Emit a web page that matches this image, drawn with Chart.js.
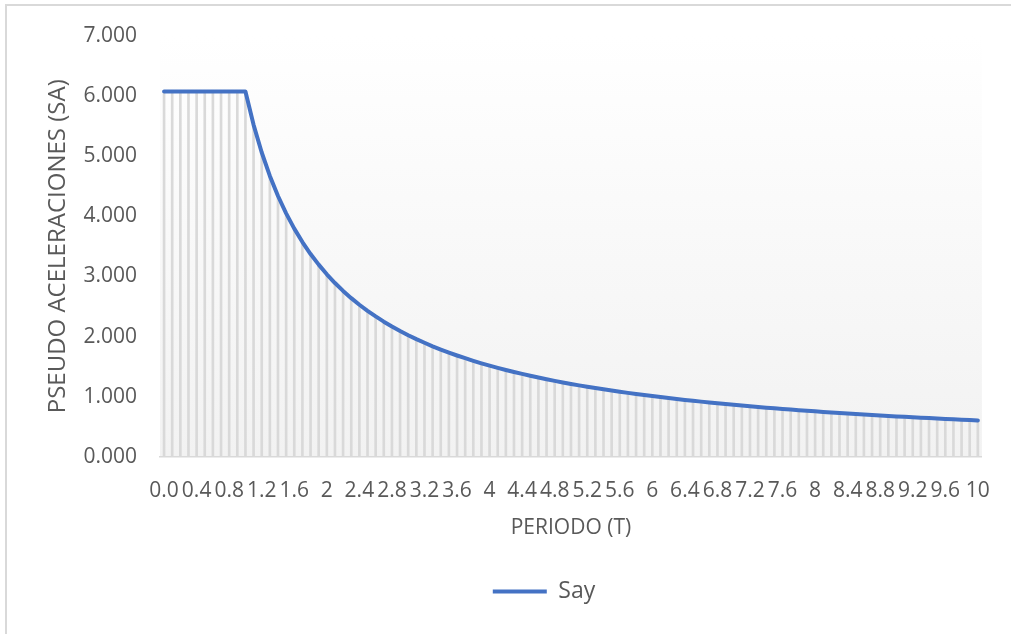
<!DOCTYPE html>
<html>
<head>
<meta charset="utf-8">
<script src="https://cdn.jsdelivr.net/npm/chart.js@4/dist/chart.umd.min.js"></script>
<style>
  html, body { margin: 0; padding: 0; background: #ffffff; }
  #wrap { position: relative; width: 1011px; height: 634px; }
</style>
</head>
<body>
<div id="wrap"><canvas id="c" width="1011" height="634"></canvas></div>
<script>
// Periodo T (s)
const periodos = [
  0.0, 0.1, 0.2, 0.3, 0.4, 0.5, 0.6, 0.7, 0.8, 0.9,
  1.0, 1.1, 1.2, 1.3, 1.4, 1.5, 1.6, 1.7, 1.8, 1.9,
  2.0, 2.1, 2.2, 2.3, 2.4, 2.5, 2.6, 2.7, 2.8, 2.9,
  3.0, 3.1, 3.2, 3.3, 3.4, 3.5, 3.6, 3.7, 3.8, 3.9,
  4.0, 4.1, 4.2, 4.3, 4.4, 4.5, 4.6, 4.7, 4.8, 4.9,
  5.0, 5.1, 5.2, 5.3, 5.4, 5.5, 5.6, 5.7, 5.8, 5.9,
  6.0, 6.1, 6.2, 6.3, 6.4, 6.5, 6.6, 6.7, 6.8, 6.9,
  7.0, 7.1, 7.2, 7.3, 7.4, 7.5, 7.6, 7.7, 7.8, 7.9,
  8.0, 8.1, 8.2, 8.3, 8.4, 8.5, 8.6, 8.7, 8.8, 8.9,
  9.0, 9.1, 9.2, 9.3, 9.4, 9.5, 9.6, 9.7, 9.8, 9.9,
  10.0
];

// Pseudo aceleraciones Say
const say = [
  6.070, 6.070, 6.070, 6.070, 6.070, 6.070, 6.070, 6.070, 6.070, 6.070,
  6.070, 5.518, 5.058, 4.669, 4.336, 4.047, 3.794, 3.571, 3.372, 3.195,
  3.035, 2.890, 2.759, 2.639, 2.529, 2.428, 2.335, 2.248, 2.168, 2.093,
  2.023, 1.958, 1.897, 1.839, 1.785, 1.734, 1.686, 1.641, 1.597, 1.556,
  1.518, 1.480, 1.445, 1.412, 1.380, 1.349, 1.320, 1.291, 1.265, 1.239,
  1.214, 1.190, 1.167, 1.145, 1.124, 1.104, 1.084, 1.065, 1.047, 1.029,
  1.012, 0.995, 0.979, 0.963, 0.948, 0.934, 0.920, 0.906, 0.893, 0.880,
  0.867, 0.855, 0.843, 0.832, 0.820, 0.809, 0.799, 0.788, 0.778, 0.768,
  0.759, 0.749, 0.740, 0.731, 0.723, 0.714, 0.706, 0.698, 0.690, 0.682,
  0.674, 0.667, 0.660, 0.653, 0.646, 0.639, 0.632, 0.626, 0.619, 0.613,
  0.607
];

// Y axis ticks
const yTicks = [0, 1, 2, 3, 4, 5, 6, 7];

const serieNombre = 'Say';
const tituloX = 'PERIODO (T)';
const tituloY = 'PSEUDO ACELERACIONES (SA)';

const FONT = "'Open Sans', 'Liberation Sans', sans-serif";
const TEXT = '#595959';

function fmtPeriodo(v, i) {
  if (i === 0) return v.toFixed(1);
  return String(Math.round(v * 10) / 10);
}

// White page with the light chart frame and graded plot background
const marco = {
  id: 'marco',
  afterLayout(chart) {
    // legend sits centred under the full chart frame, a bit right of the canvas centre
    const lg = chart.legend;
    if (lg) { lg.left += 53; lg.right += 53; }
  },
  beforeDraw(chart) {
    const ctx = chart.ctx;
    const a = chart.chartArea;
    ctx.save();
    ctx.fillStyle = '#ffffff';
    ctx.fillRect(0, 0, chart.width, chart.height);
    ctx.strokeStyle = '#d9d9d9';
    ctx.lineWidth = 2;
    ctx.strokeRect(6, 5, chart.width + 40, chart.height + 40);
    const g = ctx.createLinearGradient(0, a.top, 0, a.bottom);
    g.addColorStop(0, '#ffffff');
    g.addColorStop(1, '#f2f2f2');
    ctx.fillStyle = g;
    ctx.fillRect(a.left, a.top, a.right - a.left, a.bottom - a.top);
    ctx.restore();
  }
};

new Chart(document.getElementById('c'), {
  type: 'bar',
  data: {
    labels: periodos,
    datasets: [
      {
        type: 'line',
        label: serieNombre,
        data: say,
        borderColor: '#4472C4',
        backgroundColor: '#4472C4',
        borderWidth: 4,
        borderCapStyle: 'round',
        borderJoinStyle: 'round',
        pointRadius: 0,
        tension: 0,
        fill: false,
        order: 0
      },
      {
        type: 'bar',
        label: 'drop',
        data: say,
        backgroundColor: '#d9d9d9',
        borderWidth: 0,
        barThickness: 2,
        order: 1
      }
    ]
  },
  options: {
    responsive: false,
    animation: false,
    devicePixelRatio: 1,
    layout: { padding: { left: 0, right: 29, top: 26, bottom: 21 } },
    plugins: {
      tooltip: { enabled: false },
      legend: {
        position: 'bottom',
        labels: {
          filter: (item) => item.datasetIndex === 0,
          usePointStyle: true,
          pointStyle: 'line',
          pointStyleWidth: 54,
          padding: 10,
          color: TEXT,
          font: { family: FONT, size: 23 }
        }
      }
    },
    scales: {
      x: {
        type: 'category',
        offset: true,
        grid: { display: false, drawTicks: false },
        border: { display: true, color: '#d9d9d9', width: 1.5 },
        ticks: {
          autoSkip: false,
          maxRotation: 0,
          minRotation: 0,
          padding: 21,
          color: TEXT,
          font: { family: FONT, size: 21 },
          callback: function (val, i) {
            return i % 4 === 0 ? fmtPeriodo(periodos[i], i) : '';
          }
        },
        title: {
          display: true,
          text: tituloX,
          color: TEXT,
          font: { family: FONT, size: 21 },
          padding: { top: 0, bottom: 29 }
        },
        afterFit: (s) => { s.height = 113; }
      },
      y: {
        min: 0,
        max: 7,
        grid: { display: false, drawTicks: false },
        border: { display: false },
        afterBuildTicks: (s) => { s.ticks = yTicks.map(v => ({ value: v })); },
        ticks: {
          padding: 23,
          color: TEXT,
          font: { family: FONT, size: 21 },
          callback: (v) => Number(v).toFixed(3)
        },
        title: {
          display: true,
          text: tituloY,
          color: TEXT,
          font: { family: FONT, size: 24 },
          padding: { top: 44, bottom: 0 }
        },
        afterFit: (s) => { s.width = 160; }
      }
    }
  },
  plugins: [marco]
});
</script>
</body>
</html>
